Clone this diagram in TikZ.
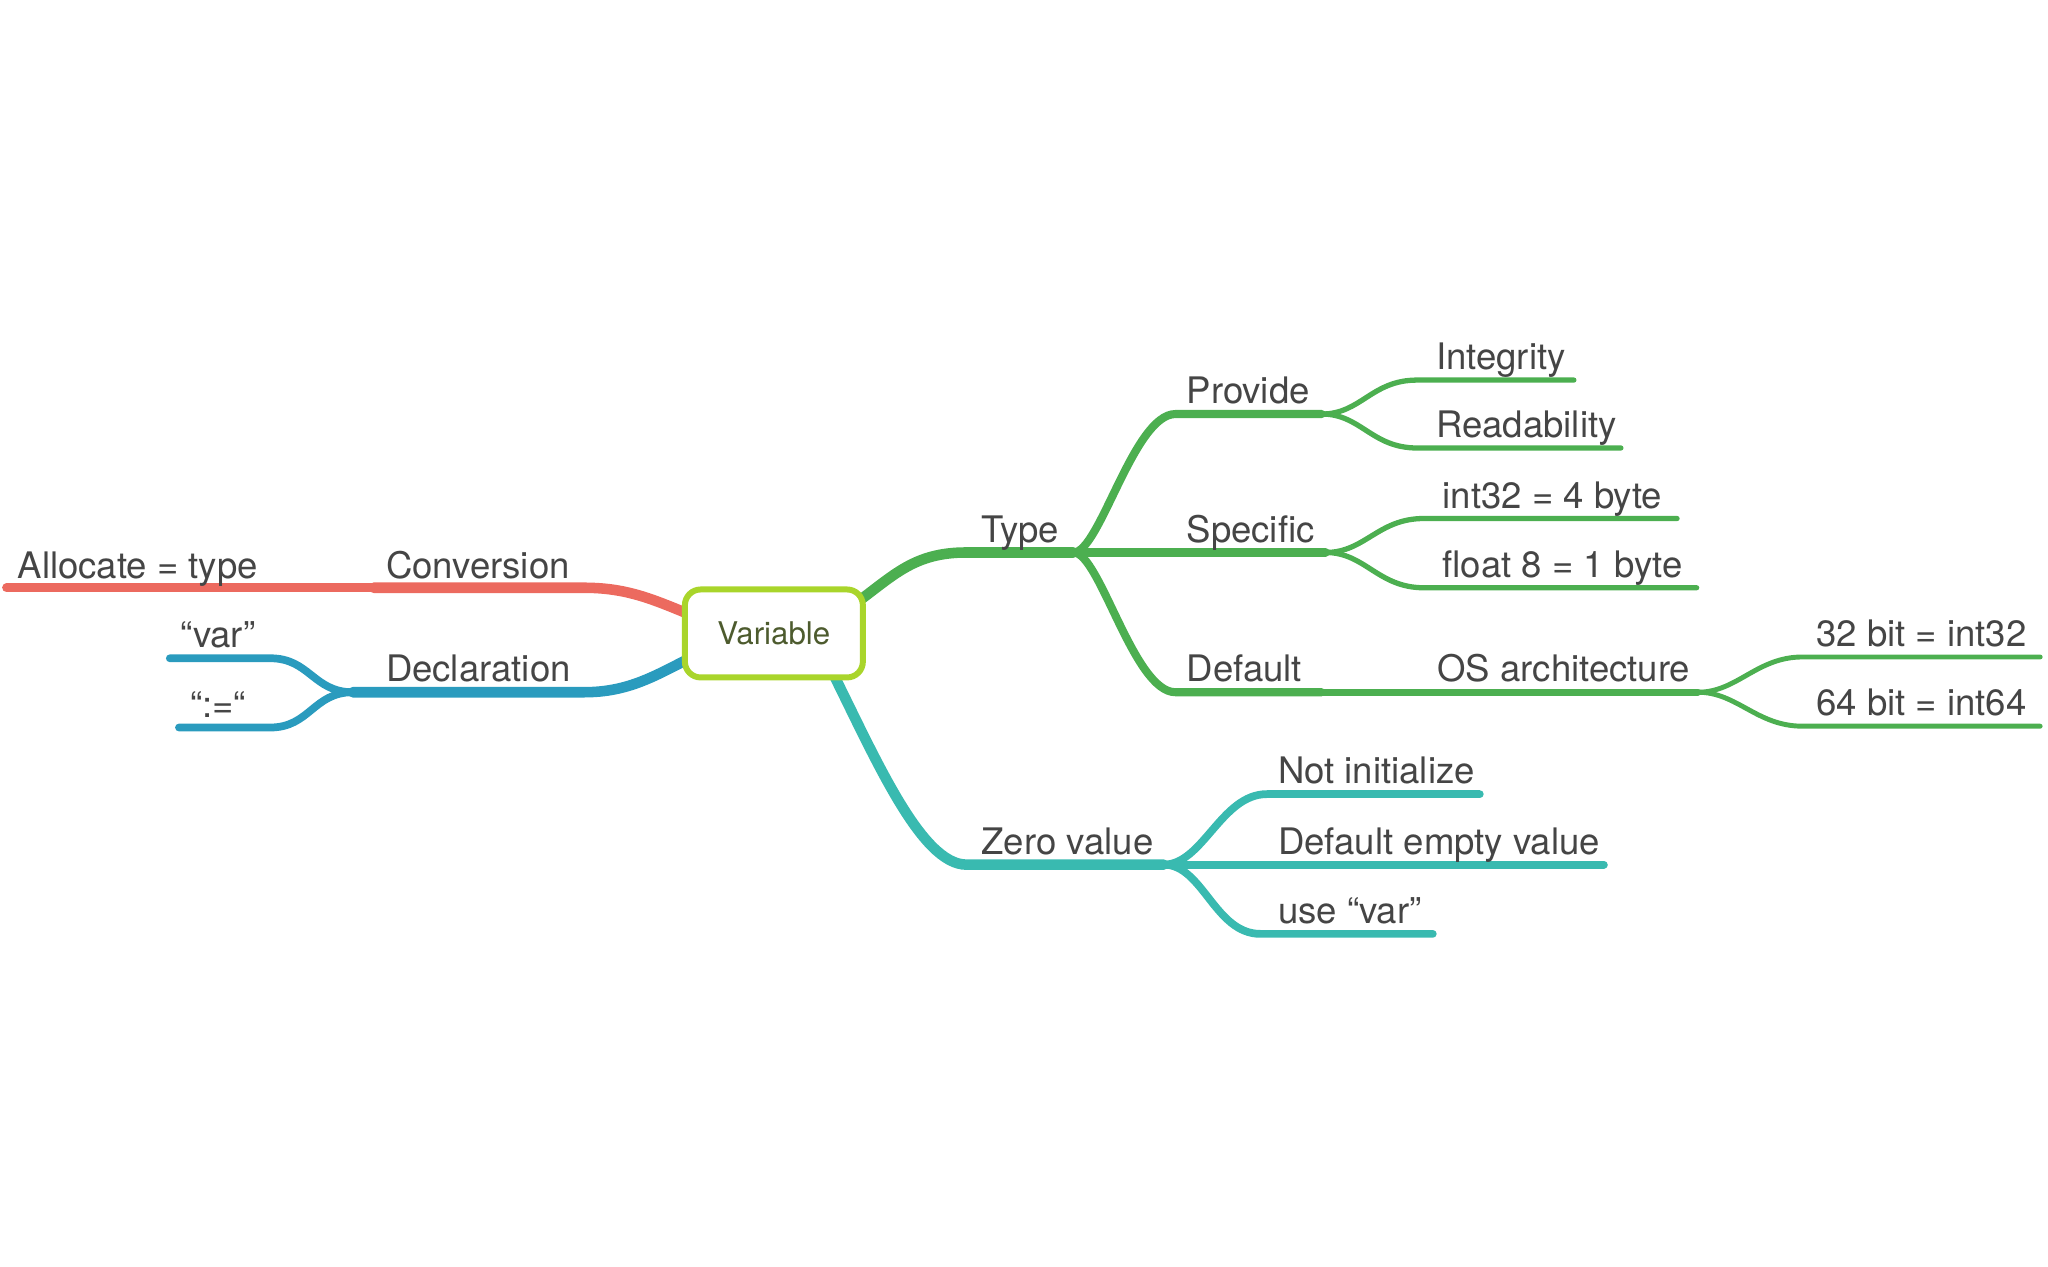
\documentclass[tikz,border=0pt]{standalone}
\usepackage{fontspec}
\setmainfont{TeX Gyre Heros}
\definecolor{cred}{HTML}{EC6A5F}
\definecolor{cblue}{HTML}{2A9BBE}
\definecolor{cgreen}{HTML}{4CAF50}
\definecolor{cteal}{HTML}{39BAB0}
\definecolor{clime}{HTML}{A9D52B}
\definecolor{ctext}{HTML}{454545}
\definecolor{cvar}{HTML}{4D5B2E}
\begin{document}
\begin{tikzpicture}[x=0.0130612cm,y=-0.0130612cm,
  lbl/.style={anchor=base west, inner sep=0pt, text=ctext, font=\fontsize{10.4}{12}\selectfont},
  wA/.style={line width=3pt, line cap=round},
  wB/.style={line width=2.3pt, line cap=round},
  wC/.style={line width=1.9pt, line cap=round},
  wD/.style={line width=1.5pt, line cap=round},
  rootbox/.style={draw=clime, line width=1.7pt, rounded corners=4.5pt, fill=white,
    minimum width=1.78cm, minimum height=0.88cm, inner sep=0pt, text=cvar,
    font=\fontsize{8.9}{10}\selectfont}]
\useasboundingbox (0,0) rectangle (1568,969.3);

% ---------- junction coordinates ----------
\coordinate (convS) at (532,472);
\coordinate (convH) at (447,450);
\coordinate (convJ) at (286,450);
\coordinate (allocE) at (5,450);

\coordinate (declS) at (532,502);
\coordinate (declH) at (447,530);
\coordinate (declJ) at (270,530);
\coordinate (varH) at (207,504);
\coordinate (varE) at (130,504);
\coordinate (assH) at (207,557);
\coordinate (assE) at (137,557);

\coordinate (typeS) at (655,462);
\coordinate (typeH) at (740,423);
\coordinate (typeJ) at (822,423);
\coordinate (provH) at (900,317);
\coordinate (provJ) at (1012,317);
\coordinate (integH) at (1085,291);
\coordinate (integE) at (1205,291);
\coordinate (readH) at (1085,343);
\coordinate (readE) at (1241,343);
\coordinate (specJ) at (1015,423);
\coordinate (i32H) at (1090,397);
\coordinate (i32E) at (1284,397);
\coordinate (f8H) at (1090,450);
\coordinate (f8E) at (1299,450);
\coordinate (defH) at (900,530);
\coordinate (defJ) at (1012,530);
\coordinate (osJ) at (1300,530);
\coordinate (b32H) at (1380,503);
\coordinate (b32E) at (1562,503);
\coordinate (b64H) at (1380,556);
\coordinate (b64E) at (1562,556);

\coordinate (zeroS) at (636,512);
\coordinate (zeroH) at (740,662);
\coordinate (zeroJ) at (891,662);
\coordinate (notH) at (970,608);
\coordinate (notE) at (1133,608);
\coordinate (emptyE) at (1228,662);
\coordinate (useH) at (965,715);
\coordinate (useE) at (1097,715);

% ---------- connectors ----------
\draw[cred, wA] (convS) .. controls +(-30,-12) and +(35,0) .. (convH) -- (convJ);
\draw[cred, line width=2.5pt, line cap=round] (convJ) -- (allocE);

\draw[cblue, wA] (declS) .. controls +(-30,15) and +(35,0) .. (declH) -- (declJ);
\draw[cblue, line width=2.2pt, line cap=round] (declJ) .. controls +(-30,0) and +(30,0) .. (varH) -- (varE);
\draw[cblue, line width=2.2pt, line cap=round] (declJ) .. controls +(-30,0) and +(30,0) .. (assH) -- (assE);

\draw[cgreen, wA] (typeS) .. controls +(30,-22) and +(-40,0) .. (typeH) -- (typeJ);
\draw[cgreen, wB] (typeJ) .. controls +(20,0) and +(-32,0) .. (provH) -- (provJ);
\draw[cgreen, wB] (typeJ) -- (specJ);
\draw[cgreen, wB] (typeJ) .. controls +(20,0) and +(-32,0) .. (defH) -- (defJ);
\draw[cgreen, wD] (provJ) .. controls +(30,0) and +(-35,0) .. (integH) -- (integE);
\draw[cgreen, wD] (provJ) .. controls +(30,0) and +(-35,0) .. (readH) -- (readE);
\draw[cgreen, wD] (specJ) .. controls +(30,0) and +(-35,0) .. (i32H) -- (i32E);
\draw[cgreen, wD] (specJ) .. controls +(30,0) and +(-35,0) .. (f8H) -- (f8E);
\draw[cgreen, wC] (defJ) -- (osJ);
\draw[cgreen, line width=1.4pt, line cap=round] (osJ) .. controls +(30,0) and +(-35,0) .. (b32H) -- (b32E);
\draw[cgreen, line width=1.4pt, line cap=round] (osJ) .. controls +(30,0) and +(-35,0) .. (b64H) -- (b64E);

\draw[cteal, wA] (zeroS) .. controls +(34,68) and +(-35,0) .. (zeroH) -- (zeroJ);
\draw[cteal, line width=2.2pt, line cap=round] (zeroJ) .. controls +(30,0) and +(-35,0) .. (notH) -- (notE);
\draw[cteal, line width=2.2pt, line cap=round] (zeroJ) -- (emptyE);
\draw[cteal, line width=2.2pt, line cap=round] (zeroJ) .. controls +(30,0) and +(-35,0) .. (useH) -- (useE);

% ---------- root ----------
\node[rootbox] (var) at (592.5,485) {Variable};

% ---------- labels ----------
\node[lbl] (conv) at (295,443) {Conversion};
\node[lbl] (alloc) at (13,443) {Allocate = type};
\node[lbl] (decl) at (295,522) {Declaration};
\node[lbl] (qvar) at (138,496) {“var”};
\node[lbl] (qass) at (145,549) {“:=“};

\node[lbl] (type) at (751,415) {Type};
\node[lbl] (prov) at (908,309) {Provide};
\node[lbl] (integ) at (1099,283) {Integrity};
\node[lbl] (read) at (1099,335) {Readability};
\node[lbl] (spec) at (908,415) {Specific};
\node[lbl] (i32) at (1104,389) {int32 = 4 byte};
\node[lbl] (f8) at (1104,442) {float 8 = 1 byte};
\node[lbl] (def) at (908,522) {Default};
\node[lbl] (os) at (1100,522) {OS architecture};
\node[lbl] (b32) at (1390,495) {32 bit = int32};
\node[lbl] (b64) at (1390,548) {64 bit = int64};

\node[lbl] (zero) at (751,654) {Zero value};
\node[lbl] (notinit) at (978,600) {Not initialize};
\node[lbl] (empty) at (978,654) {Default empty value};
\node[lbl] (use) at (978,707) {use “var”};
\end{tikzpicture}
\end{document}
